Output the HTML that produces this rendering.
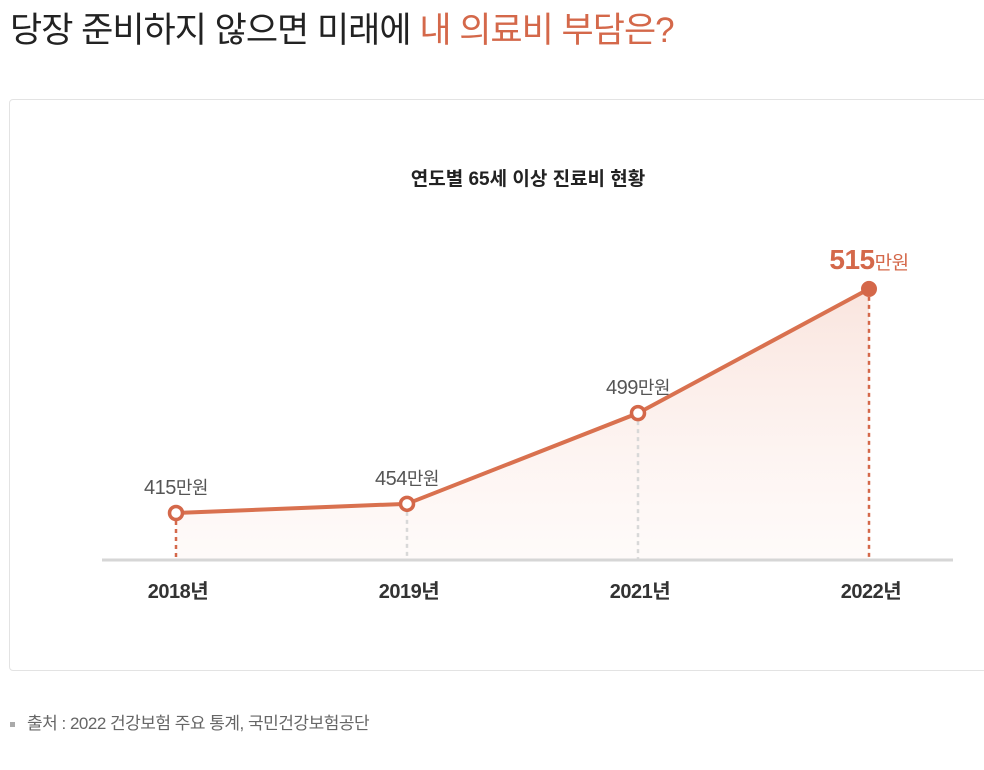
<!DOCTYPE html>
<html lang="ko"><head><meta charset="utf-8">
<style>
html,body{margin:0;padding:0;background:#fff;width:984px;height:770px;overflow:hidden;font-family:"Liberation Sans","Noto Sans CJK KR",sans-serif;}
#title{position:absolute;left:10px;top:2px;font-size:35px;color:#222;letter-spacing:-1px;white-space:nowrap;}
#title span{color:#d4684a;}
#card{position:absolute;left:9px;top:99px;width:990px;height:572px;border:1px solid #e3e3e3;border-radius:4px;box-sizing:border-box;}
#source{position:absolute;left:10px;top:709px;font-size:17px;color:#666;letter-spacing:-0.5px;}
#source i{display:inline-block;width:5px;height:5px;background:#aaa;margin-right:12px;vertical-align:middle;}
svg{position:absolute;left:0;top:0;}
</style></head><body>
<div id="title">당장 준비하지 않으면 미래에 <span>내 의료비 부담은?</span></div>
<div id="card"></div>
<svg id="chart" width="984" height="770">
<defs><linearGradient id="g" x1="0" y1="0" x2="0" y2="1"><stop offset="0" stop-color="#f6d3c8" stop-opacity="0.6"/><stop offset="1" stop-color="#fdf0ec" stop-opacity="0.3"/></linearGradient></defs>
<text x="528" y="185" text-anchor="middle" font-size="19" font-weight="bold" fill="#222">연도별 65세 이상 진료비 현황</text>
</svg>
<div id="source"><i></i>출처 : 2022 건강보험 주요 통계, 국민건강보험공단</div>
<script>
const categories=["2018년","2019년","2021년","2022년"];
const values=[415,454,499,515];
const valueLabels=["415","454","499","515"];
const svg=document.getElementById('chart');
const NS='http://www.w3.org/2000/svg';
const baseY=560;
function xScale(i){return 176+i*(869-176)/(categories.length-1);}
function yScale(v){return baseY-(45.5+0.718*Math.exp(0.05*(v-400)));}
function mk(t,a){const e=document.createElementNS(NS,t);for(const k in a)e.setAttribute(k,a[k]);svg.appendChild(e);return e;}
const pts=values.map((v,i)=>[xScale(i),yScale(v)]);
const area=mk('path',{d:'M'+pts[0][0]+','+baseY+' '+pts.map(p=>'L'+p[0]+','+p[1]).join(' ')+' L'+pts[pts.length-1][0]+','+baseY+'Z',fill:'url(#g)'});


pts.forEach((p,i)=>{
  const edge=(i===0||i===pts.length-1);
  const d=mk('line',{x1:p[0],x2:p[0],y1:p[1],y2:baseY,stroke:edge?'#d4684a':'#d8d8d8','stroke-width':2.5,'stroke-dasharray':'4,4'});
  
  
});
const ax=mk('line',{x1:102,x2:953,y1:baseY,y2:baseY,stroke:'#d6d6d6','stroke-width':3});


const ln=mk('polyline',{points:pts.map(p=>p.join(',')).join(' '),fill:'none',stroke:'#d9714f','stroke-width':4,'stroke-linejoin':'round'});


pts.forEach((p,i)=>{
  const last=i===pts.length-1;
  const c=mk('circle',{cx:p[0],cy:p[1],r:last?8:6.5,fill:last?'#d4684a':'#fff',stroke:'#d4684a','stroke-width':last?0:3.5});
  
  
  const t=mk('text',{x:p[0],y:p[1]-(last?20:19),'text-anchor':'middle',fill:last?'#d4684a':'#555','font-size':last?28:20,'font-weight':last?'bold':'normal','letter-spacing':'-0.5'});
  t.innerHTML=valueLabels[i]+'<tspan font-size="'+(last?19:18)+'" font-weight="normal">만원</tspan>';
  
  
  const xl=mk('text',{x:p[0]+2,y:598,'text-anchor':'middle',fill:'#333','font-size':20,'font-weight':'bold','letter-spacing':'-0.5'});
  xl.textContent=categories[i];
  
  
});
</script>
</body></html>
